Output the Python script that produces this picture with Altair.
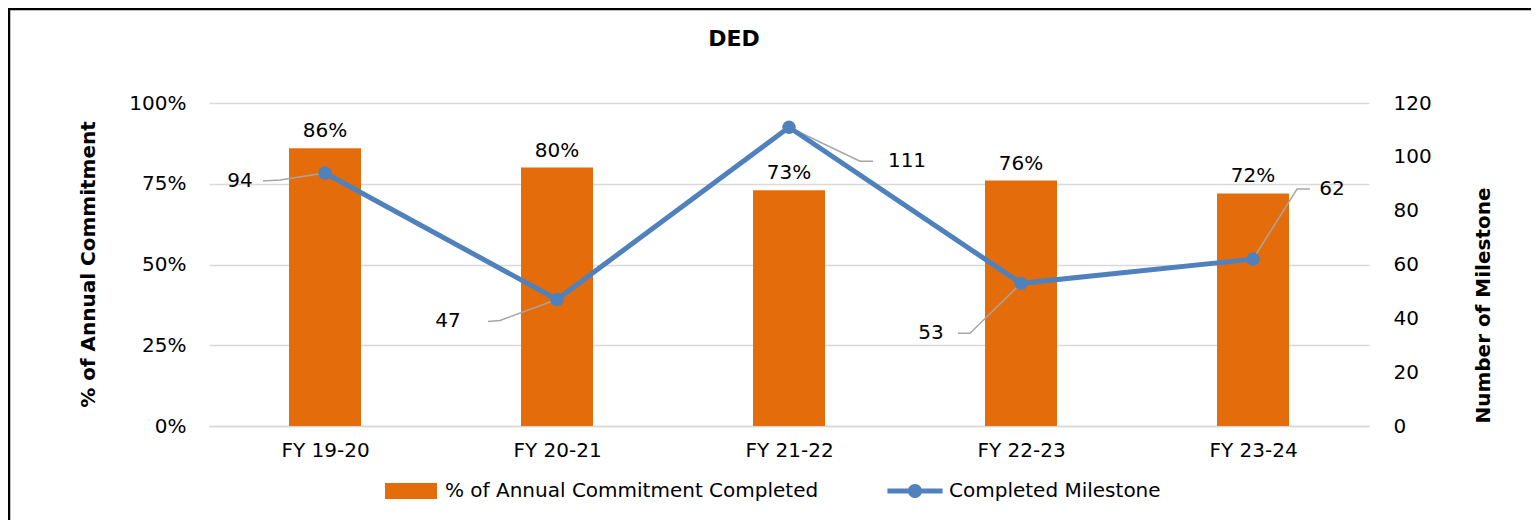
import altair as alt
import pandas as pd

# ---- data ----
categories = ["FY 19-20", "FY 20-21", "FY 21-22", "FY 22-23", "FY 23-24"]
pct_completed = [0.86, 0.80, 0.73, 0.76, 0.72]
milestones = [94, 47, 111, 53, 62]
series_names = ["% of Annual Commitment Completed", "Completed Milestone"]

# ---- styles (pixel offsets of the point labels and leader lines) ----
FONT = "DejaVu Sans"
ORANGE = "#E46C0A"
BLUE = "#4F81BD"
GRID = "#D9D9D9"
W, H = 1160, 323
PX_PER_X = W / 5.0
PX_PER_M = H / 120.0
label_off = [(-85, 8), (-109, 22), (118, 34), (-90, 50), (79, -70)]
leader_off = [
    [(-62, 8), (-45, 7), (0, 0)],
    [(-69, 22), (-57, 21), (0, 0)],
    [(0, 0), (71, 34), (84, 34)],
    [(-63, 50), (-51, 50), (0, 0)],
    [(0, 0), (44, -70), (57, -70)],
]

idx = list(range(len(categories)))
df = pd.DataFrame({"idx": idx, "cat": categories, "pct": pct_completed, "m": milestones})
df["lx"] = [i + o[0] / PX_PER_X for i, o in zip(idx, label_off)]
df["ly"] = [v - o[1] / PX_PER_M for v, o in zip(milestones, label_off)]

rows = []
for i, (v, segs) in enumerate(zip(milestones, leader_off)):
    for k, (ox, oy) in enumerate(segs):
        rows.append({"id": i, "ord": k, "x": i + ox / PX_PER_X, "y": v - oy / PX_PER_M})
leaders = pd.DataFrame(rows)

label_expr = "[" + ",".join("'%s'" % c for c in categories) + "][datum.value]"
x_scale = alt.Scale(domain=[-0.5, len(categories) - 0.5], nice=False, zero=False, padding=0)
x_axis = alt.Axis(values=idx, labelExpr=label_expr, grid=False, ticks=False, tickSize=0,
                  domain=True, domainColor=GRID, domainWidth=1.5, labelPadding=14,
                  labelFontSize=20, labelFont=FONT, labelColor="#000", title=None)


def X(field):
    return alt.X(field + ":Q", scale=x_scale, axis=x_axis)


y_left = alt.Y("pct:Q", scale=alt.Scale(domain=[0, 1], nice=False),
               axis=alt.Axis(format="%", values=[0, 0.25, 0.5, 0.75, 1], grid=True, gridColor=GRID,
                             gridWidth=1.3, domain=False, ticks=False, labelPadding=23,
                             labelFontSize=20, labelFont=FONT, labelColor="#000",
                             title="% of Annual Commitment", titleFontSize=20, titleFont=FONT,
                             titleFontWeight="bold", titleColor="#000", titleX=-111, titleY=161,
                             titleAngle=270, titleBaseline="bottom"))

m_scale = alt.Scale(domain=[0, 120], nice=False)
y_right_axis = alt.Axis(orient="right", values=[0, 20, 40, 60, 80, 100, 120], grid=False,
                        domain=False, ticks=False, labelPadding=24, labelFontSize=20,
                        labelFont=FONT, labelColor="#000", title="Number of Milestone",
                        titleFontSize=20, titleFont=FONT, titleFontWeight="bold",
                        titleColor="#000", titleX=124, titleY=202, titleAngle=270,
                        titleBaseline="bottom")

base = alt.Chart(df)
bars = base.mark_bar(color=ORANGE, size=72).encode(x=X("idx"), y=y_left)
bar_labels = base.mark_text(baseline="bottom", dy=-7, fontSize=20, font=FONT, color="#000").encode(
    x=X("idx"), y=alt.Y("pct:Q"), text=alt.Text("pct:Q", format=".0%"))
left = alt.layer(bars, bar_labels)

leader_lines = alt.Chart(leaders).mark_line(color="#A6A6A6", strokeWidth=1.5).encode(
    x=X("x"), y=alt.Y("y:Q", scale=m_scale, axis=y_right_axis), detail="id:N", order="ord:Q")
line = base.mark_line(color=BLUE, strokeWidth=5).encode(x=X("idx"), y=alt.Y("m:Q", scale=m_scale))
pts = base.mark_point(filled=True, color=BLUE, size=180, opacity=1).encode(
    x=X("idx"), y=alt.Y("m:Q", scale=m_scale))
pt_labels = base.mark_text(fontSize=20, font=FONT, color="#000", baseline="middle", align="center").encode(
    x=X("lx"), y=alt.Y("ly:Q", scale=m_scale), text="m:Q")
right = alt.layer(leader_lines, line, pts, pt_labels)

rect_path = "M-1,-0.31H1V0.31H-1Z"
line_path = ("M-1.06,-0.1H1.06V0.1H-1.06Z "
             "M0.27,0A0.27,0.27,0,1,1,-0.27,0A0.27,0.27,0,1,1,0.27,0Z")
legend = alt.Legend(orient="none", legendX=176, legendY=362, direction="horizontal",
                    title=None, columnPadding=68, labelOffset=8, labelFontSize=20,
                    labelFont=FONT, labelColor="#000", labelLimit=800, symbolSize=2704,
                    symbolStrokeWidth=0, symbolOpacity=1)
legend_layer = alt.Chart(pd.DataFrame({"series": series_names})).mark_point(
    filled=True, opacity=0, size=2704).encode(
    color=alt.Color("series:N", scale=alt.Scale(domain=series_names, range=[ORANGE, BLUE]), legend=legend),
    shape=alt.Shape("series:N", scale=alt.Scale(domain=series_names, range=[rect_path, line_path]),
                    legend=legend))

frame = alt.Chart(pd.DataFrame({"a": [0]})).mark_rect(
    fill="white", fillOpacity=0, stroke="#000", strokeWidth=2.5).encode(
    x=alt.value(-200), x2=alt.value(1340), y=alt.value(-94), y2=alt.value(440))

chart = alt.layer(frame, left, right, legend_layer).resolve_scale(y="independent").properties(
    width=W, height=H,
    autosize=alt.AutoSizeParams(type="none"),
    padding={"left": 201, "top": 95, "right": 162, "bottom": 94},
    background="white",
    title=alt.TitleParams("DED", fontSize=22, font=FONT, fontWeight="bold", color="#000",
                          anchor="middle", frame="group", dx=-55, offset=-65, baseline="bottom"),
).configure_view(stroke=None)

chart.save("out.html", embed_options={"renderer": "svg", "actions": False})
